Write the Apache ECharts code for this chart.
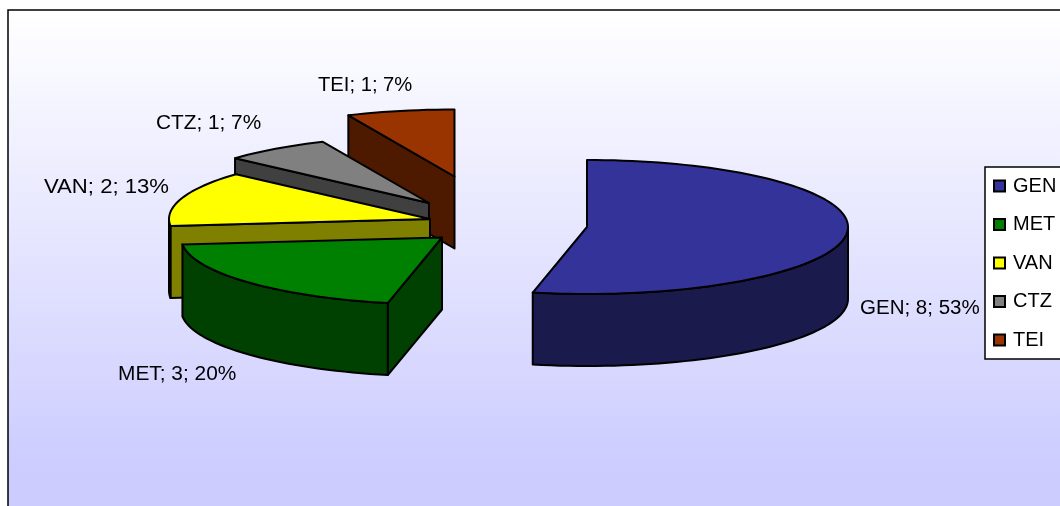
<!DOCTYPE html>
<html><head><meta charset="utf-8">
<style>html,body{margin:0;padding:0;background:#fff}#c{width:1060px;height:506px}</style>
<script src="https://cdn.jsdelivr.net/npm/echarts@6/dist/echarts.min.js"></script>
</head><body><div id="c"></div>
<script>
const categories = ['GEN', 'MET', 'VAN', 'CTZ', 'TEI'];
const values = [8, 3, 2, 1, 1];

const topColors = ['#333399', '#008000', '#FFFF00', '#808080', '#993300'];
const sideColors = ['#1A1A4D', '#004000', '#808000', '#404040', '#4D1A00'];
const apexes = [[587, 227], [442, 237.5], [430, 219], [429, 203], [454.5, 176.5]];
const labelSpots = [[860, 308], [118, 374], [44, 187], [156, 123], [318, 85]];
const labelStretch = [1.026, 1.044, 1.106, 1.04, 1.01];
const paintOrder = [4, 3, 2, 1, 0];
const RX = 261, RY = 67, DEPTH = 72;
const FONT = '20px "Liberation Sans", Arial, sans-serif';

const total = values.reduce((a, b) => a + b, 0);
const starts = values.map((_, i) => values.slice(0, i).reduce((a, b) => a + b, 0) / total * 360);

function rim(c, deg, drop) {
  const t = deg * Math.PI / 180;
  return [c[0] + RX * Math.sin(t), c[1] - RY * Math.cos(t) + drop];
}
function arc(c, a, b, drop) {
  const pts = [];
  for (let d = a; d < b; d += 2) pts.push(rim(c, d, drop));
  pts.push(rim(c, b, drop));
  return pts;
}
function poly(points, fill) {
  return { type: 'polygon', shape: { points }, style: { fill, stroke: '#000', lineWidth: 2, lineJoin: 'round' } };
}
function renderSlice(i) {
  return function (params, api) {
    const value = api.value(0);
    const a = starts[i], b = a + value / total * 360, c = apexes[i];
    const kids = [];
    const radialFace = deg => {
      const p = rim(c, deg, 0);
      return poly([c, p, [p[0], p[1] + DEPTH], [c[0], c[1] + DEPTH]], sideColors[i]);
    };
    if (Math.sin(a * Math.PI / 180) < 0) kids.push(radialFace(a));
    if (Math.sin(b * Math.PI / 180) > 0) kids.push(radialFace(b));
    const wa = Math.max(a, 90), wb = Math.min(b, 270);
    if (wb > wa) {
      kids.push(poly(arc(c, wa, wb, 0).concat(arc(c, wa, wb, DEPTH).reverse()), sideColors[i]));
    }
    kids.push(poly([c].concat(arc(c, a, b, 0)), topColors[i]));
    const pct = Math.round(value / total * 100);
    kids.push({
      type: 'text', z2: 100,
      x: labelSpots[i][0], y: labelSpots[i][1], scaleX: labelStretch[i],
      style: {
        text: categories[i] + '; ' + value + '; ' + pct + '%',
        font: FONT, fill: '#000', verticalAlign: 'middle', align: 'left'
      }
    });
    return { type: 'group', children: kids };
  };
}

const chart = echarts.init(document.getElementById('c'), null, { renderer: 'canvas' });
chart.setOption({
  animation: false,
  tooltip: { show: false },
  graphic: [{
    type: 'rect', z: -10, silent: true,
    shape: { x: 8, y: 10, width: 1070, height: 510 },
    style: {
      fill: new echarts.graphic.LinearGradient(0, 0, 0, 1, [
        { offset: 0, color: '#FFFFFF' },
        { offset: 0.9, color: '#CCCCFF' },
        { offset: 1, color: '#CCCCFF' }
      ]),
      stroke: '#000', lineWidth: 1.5
    }
  }],
  legend: {
    show: true, orient: 'vertical', left: 985, top: 167,
    data: categories,
    icon: 'rect', itemWidth: 11, itemHeight: 11, itemGap: 18.5,
    padding: [9, 40, 9, 8],
    backgroundColor: '#fff', borderColor: '#000', borderWidth: 1.5, borderRadius: 0,
    selectedMode: false, z: 20,
    textStyle: { color: '#000', fontFamily: '"Liberation Sans", Arial, sans-serif', fontSize: 20, padding: [0, 0, 0, 3] },
    itemStyle: { borderColor: '#000', borderWidth: 2 }
  },
  series: categories.map((name, i) => ({
    type: 'custom', name,
    coordinateSystem: 'none',
    z: 2 + paintOrder.indexOf(i),
    silent: true,
    itemStyle: { color: topColors[i] },
    renderItem: renderSlice(i),
    data: [[values[i]]]
  }))
});
</script></body></html>
